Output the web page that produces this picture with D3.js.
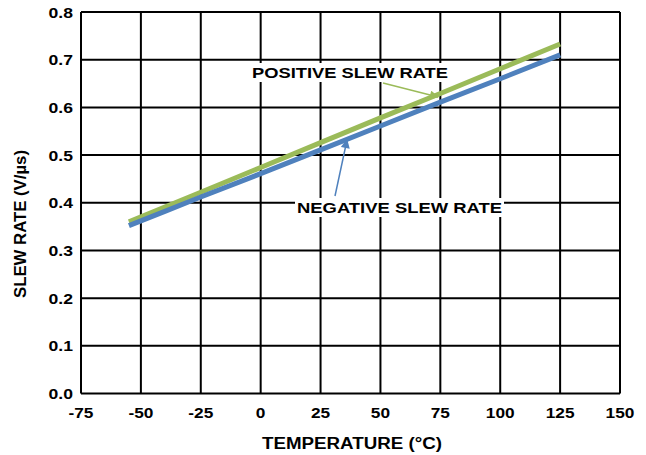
<!DOCTYPE html>
<html>
<head>
<meta charset="utf-8">
<script src="https://cdn.jsdelivr.net/npm/d3@7"></script>
<style>
body{margin:0;background:#fff;}
text{font-family:"Liberation Sans",Arial,sans-serif;font-weight:bold;fill:#000;}
</style>
</head>
<body>
<svg id="c" width="646" height="455"></svg>
<script>
const temps = [-55, -40, -25, 0, 25, 50, 75, 100, 125];
const positiveSlew = [0.360, 0.391, 0.422, 0.474, 0.526, 0.578, 0.629, 0.681, 0.733];
const negativeSlew = [0.352, 0.382, 0.412, 0.461, 0.511, 0.561, 0.611, 0.660, 0.710];
const xTicks = [-75, -50, -25, 0, 25, 50, 75, 100, 125, 150];
const yTicks = [0.0, 0.1, 0.2, 0.3, 0.4, 0.5, 0.6, 0.7, 0.8];

const svg = d3.select("#c");
const L = 81, R = 620, T = 12, B = 393.5;
const x = d3.scaleLinear().domain([-75, 150]).range([L, R]);
const y = d3.scaleLinear().domain([0, 0.8]).range([B, T]);

function widen(sel, f) {
  sel.each(function () {
    const w = this.getComputedTextLength();
    d3.select(this).attr("textLength", w * f).attr("lengthAdjust", "spacingAndGlyphs");
  });
}

// grid
const g = svg.append("g");
g.selectAll(".vx").data(xTicks).join("line")
  .attr("x1", d => x(d)).attr("x2", d => x(d)).attr("y1", T).attr("y2", B)
  .attr("stroke", "#000").attr("stroke-width", 2);
g.selectAll(".hy").data(yTicks).join("line")
  .attr("x1", L).attr("x2", R).attr("y1", d => y(d)).attr("y2", d => y(d))
  .attr("stroke", "#000").attr("stroke-width", 2);

// tick labels
const yl = svg.append("g").selectAll("text").data(yTicks).join("text")
  .attr("x", 73).attr("y", d => y(d) + 5.5).attr("text-anchor", "end")
  .attr("font-size", 15).text(d => d.toFixed(1));
widen(yl, 1.17);
const xl = svg.append("g").selectAll("text").data(xTicks).join("text")
  .attr("x", d => x(d)).attr("y", 418).attr("text-anchor", "middle")
  .attr("font-size", 15).text(d => d);
widen(xl, 1.15);

// axis titles
svg.append("text").attr("x", 352).attr("y", 449).attr("text-anchor", "middle")
  .attr("font-size", 16).attr("textLength", 180).attr("lengthAdjust", "spacingAndGlyphs")
  .text("TEMPERATURE (°C)");
svg.append("text").attr("transform", "translate(26,224) rotate(-90)")
  .attr("text-anchor", "middle").attr("font-size", 16)
  .attr("textLength", 148).attr("lengthAdjust", "spacingAndGlyphs")
  .text("SLEW RATE (V/µs)");

// lines
const line = d3.line().x((d, i) => x(temps[i])).y(d => y(d));
svg.append("path").datum(positiveSlew).attr("d", line)
  .attr("fill", "none").attr("stroke", "#9BBB59").attr("stroke-width", 5);
svg.append("path").datum(negativeSlew).attr("d", line)
  .attr("fill", "none").attr("stroke", "#4F81BD").attr("stroke-width", 5);

// arrow markers
const defs = svg.append("defs");
function marker(id, col) {
  defs.append("marker").attr("id", id).attr("viewBox", "0 0 10 10")
    .attr("refX", 9).attr("refY", 5).attr("markerWidth", 7).attr("markerHeight", 6)
    .attr("markerUnits", "strokeWidth").attr("orient", "auto")
    .append("path").attr("d", "M0,0L10,5L0,10Z").attr("fill", col);
}
marker("ag", "#9BBB59");
marker("ab", "#4F81BD");

// annotations
function label(txt, cx, by, len) {
  const t = svg.append("text").attr("x", cx).attr("y", by).attr("text-anchor", "middle")
    .attr("font-size", 15).attr("textLength", len).attr("lengthAdjust", "spacingAndGlyphs")
    .text(txt);
  const bb = t.node().getBBox();
  svg.insert("rect", () => t.node()).attr("x", bb.x - 2).attr("y", bb.y - 1)
    .attr("width", bb.width + 4).attr("height", bb.height + 2).attr("fill", "#fff");
}
label("POSITIVE SLEW RATE", 350, 78, 196);
label("NEGATIVE SLEW RATE", 399.5, 213, 205);

svg.append("line").attr("x1", 383).attr("y1", 83).attr("x2", 438).attr("y2", 97)
  .attr("stroke", "#9BBB59").attr("stroke-width", 1.5).attr("marker-end", "url(#ag)");
svg.append("line").attr("x1", 335).attr("y1", 196).attr("x2", 347).attr("y2", 140)
  .attr("stroke", "#4F81BD").attr("stroke-width", 1.5).attr("marker-end", "url(#ab)");
</script>
</body>
</html>
